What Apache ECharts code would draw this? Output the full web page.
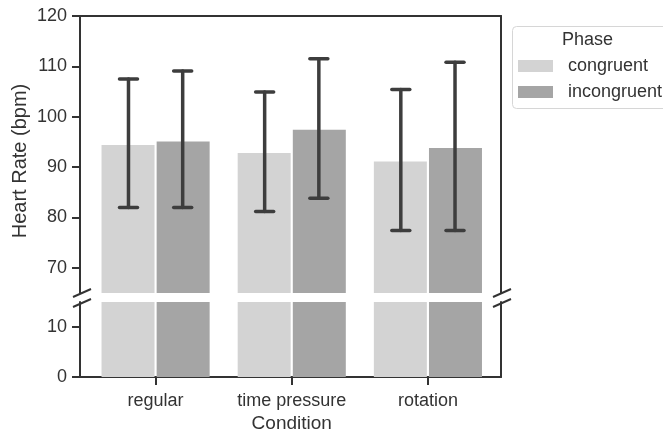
<!DOCTYPE html>
<html>
<head>
<meta charset="utf-8">
<script src="https://cdn.jsdelivr.net/npm/echarts@6/dist/echarts.min.js"></script>
<style>
  html, body { margin: 0; padding: 0; background: #fff; }
  #chart { width: 663px; height: 435px; }
</style>
</head>
<body>
<div id="chart"></div>
<script>
// data
var categories = ['regular', 'time pressure', 'rotation'];
var phases = ['congruent', 'incongruent'];
var congruentMean = [94.4, 92.8, 91.1];
var incongruentMean = [95.1, 97.4, 93.8];
var congruentLow = [82.0, 81.2, 77.4];
var congruentHigh = [107.5, 104.9, 105.4];
var incongruentLow = [82.0, 83.8, 77.4];
var incongruentHigh = [109.1, 111.5, 110.8];
var upperTicks = [70, 80, 90, 100, 110, 120];
var lowerTicks = [0, 10];

var textColor = '#333';
var lineColor = '#333';
var font = 'Liberation Sans';
var colors = ['#d3d3d3', '#a5a5a5'];

/**
 * build [category, low, high] items for an error bar series
 */
function errorData(low, high) {
    return categories.map(function(c, i) {
        return [i, low[i], high[i]];
    });
}

/**
 * error bar renderer, shifted to left or right bar of the group
 */
function makeErrorRenderer(side) {
    return function(params, api) {
        var band = api.size([1, 0])[0];
        var x = api.coord([api.value(0), 0])[0] + side * band * 0.199;
        var top = api.coord([api.value(0), api.value(2)])[1];
        var bottom = api.coord([api.value(0), api.value(1)])[1];
        var cap = 9;
        var style = { stroke: '#3d3d3d', lineWidth: 3.5, lineCap: 'round' };
        return {
            type: 'group',
            children: [
                { type: 'line', shape: { x1: x, y1: top, x2: x, y2: bottom }, style: style },
                { type: 'line', shape: { x1: x - cap, y1: top, x2: x + cap, y2: top }, style: style },
                { type: 'line', shape: { x1: x - cap, y1: bottom, x2: x + cap, y2: bottom }, style: style }
            ]
        };
    };
}

function breakMarks(cx) {
    var s = { stroke: lineColor, lineWidth: 2 };
    return [
        { type: 'line', shape: { x1: cx - 8, y1: 297, x2: cx + 10, y2: 289 }, style: s },
        { type: 'line', shape: { x1: cx - 8, y1: 307, x2: cx + 10, y2: 299 }, style: s }
    ];
}

var axisLine = { show: true, lineStyle: { color: lineColor, width: 2 } };
var noAxis = { show: false };
var tickLabel = { color: textColor, fontFamily: font, fontSize: 18 };
var tickStyle = { color: lineColor, width: 2 };

var barCommon = {
    type: 'bar',
    barWidth: 53,
    barGap: '4%',
    clip: true
};

// frame grids (0, 1) carry the spines, data grids (2, 3) carry the bars
var chart = echarts.init(document.getElementById('chart'));
chart.setOption({
    animation: false,
    textStyle: { fontFamily: font },
    color: colors,
    grid: [
        { left: 80, right: 162, top: 16, height: 277 },
        { left: 80, right: 162, top: 302, height: 75 },
        { left: 87.5, right: 167, top: 16, height: 277 },
        { left: 87.5, right: 167, top: 302, height: 75 }
    ],
    xAxis: [
        { type: 'value', gridIndex: 0, position: 'top', axisLine: axisLine,
          axisTick: noAxis, axisLabel: noAxis, splitLine: noAxis },
        { type: 'value', gridIndex: 1, position: 'bottom', axisLine: axisLine,
          axisTick: noAxis, axisLabel: noAxis, splitLine: noAxis },
        { type: 'category', gridIndex: 2, data: categories, axisLine: noAxis,
          axisTick: noAxis, axisLabel: noAxis },
        {
            type: 'category', gridIndex: 3, data: categories, position: 'bottom',
            axisLine: noAxis,
            axisTick: { show: true, alignWithLabel: true, length: 8, lineStyle: tickStyle },
            axisLabel: Object.assign({ margin: 15, interval: 0 }, tickLabel),
            name: 'Condition', nameLocation: 'middle', nameGap: 37,
            nameTextStyle: { color: textColor, fontFamily: font, fontSize: 19 }
        }
    ],
    yAxis: [
        {
            type: 'value', gridIndex: 0, min: 65, max: 120,
            axisLine: axisLine,
            axisTick: { show: true, length: 8, customValues: upperTicks, lineStyle: tickStyle },
            axisLabel: Object.assign({ margin: 13, customValues: upperTicks }, tickLabel),
            splitLine: noAxis
        },
        {
            type: 'value', gridIndex: 1, min: 0, max: 15,
            axisLine: axisLine,
            axisTick: { show: true, length: 8, customValues: lowerTicks, lineStyle: tickStyle },
            axisLabel: Object.assign({ margin: 13, customValues: lowerTicks }, tickLabel),
            splitLine: noAxis
        },
        { type: 'value', gridIndex: 0, min: 65, max: 120, position: 'right',
          axisLine: axisLine, axisTick: noAxis, axisLabel: noAxis, splitLine: noAxis },
        { type: 'value', gridIndex: 1, min: 0, max: 15, position: 'right',
          axisLine: axisLine, axisTick: noAxis, axisLabel: noAxis, splitLine: noAxis },
        { type: 'value', gridIndex: 2, min: 65, max: 120, show: false },
        { type: 'value', gridIndex: 3, min: 0, max: 15, show: false }
    ],
    title: {
        text: 'Phase', left: 562, top: 31, padding: 0,
        textStyle: { color: textColor, fontFamily: font, fontSize: 18, fontWeight: 'normal' }
    },
    legend: {
        data: phases, orient: 'vertical', left: 518, top: 57, padding: 0,
        itemWidth: 35, itemHeight: 12, itemGap: 8,
        icon: 'rect',
        textStyle: { color: textColor, fontFamily: font, fontSize: 18, padding: [0, 0, 0, 10] }
    },
    series: [
        Object.assign({ name: 'congruent', xAxisIndex: 2, yAxisIndex: 4, data: congruentMean }, barCommon),
        Object.assign({ name: 'incongruent', xAxisIndex: 2, yAxisIndex: 4, data: incongruentMean }, barCommon),
        Object.assign({ name: 'congruent', xAxisIndex: 3, yAxisIndex: 5, data: congruentMean }, barCommon),
        Object.assign({ name: 'incongruent', xAxisIndex: 3, yAxisIndex: 5, data: incongruentMean }, barCommon),
        {
            name: 'err-congruent', type: 'custom', xAxisIndex: 2, yAxisIndex: 4, z: 5,
            renderItem: makeErrorRenderer(-1), data: errorData(congruentLow, congruentHigh)
        },
        {
            name: 'err-incongruent', type: 'custom', xAxisIndex: 2, yAxisIndex: 4, z: 5,
            renderItem: makeErrorRenderer(1), data: errorData(incongruentLow, incongruentHigh)
        }
    ],
    graphic: [
        {
            type: 'rect', left: 512, top: 26, z: -1,
            shape: { width: 170, height: 82, r: 4 },
            style: { fill: '#fff', stroke: '#d6d6d6', lineWidth: 1 }
        },
        {
            type: 'text', x: 20, y: 161, rotation: Math.PI / 2,
            style: {
                text: 'Heart Rate (bpm)', fill: textColor, font: '20px "Liberation Sans"',
                textAlign: 'center', textVerticalAlign: 'middle'
            }
        }
    ].concat(breakMarks(81)).concat(breakMarks(501))
});
</script>
</body>
</html>
